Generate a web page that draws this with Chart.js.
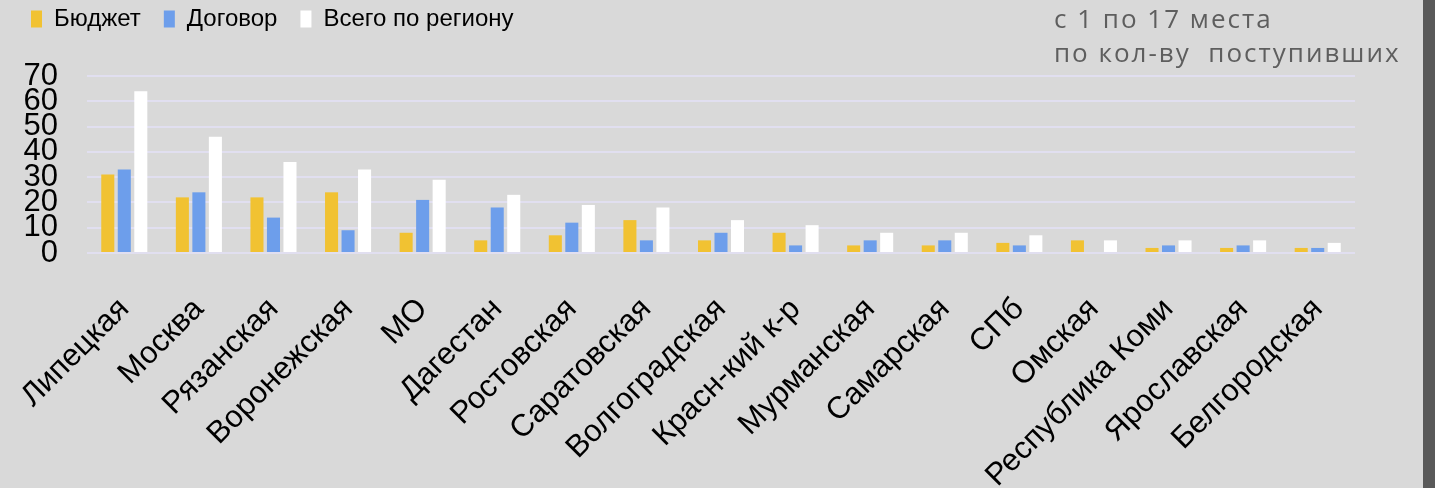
<!DOCTYPE html>
<html>
<head>
<meta charset="utf-8">
<script src="https://cdn.jsdelivr.net/npm/chart.js@4"></script>
<style>
  html, body { margin: 0; padding: 0; background: #d9d9d9; }
  #wrap { position: relative; width: 1435px; height: 488px; overflow: hidden; }
  #note {
    position: absolute; left: 1054px; top: 1px;
    font-family: 'Open Sans', sans-serif; font-size: 26px; line-height: 34px;
    letter-spacing: 2px; color: #5e5e5e; white-space: pre;
  }
  #strip { position: absolute; left: 1423px; top: 0; width: 12px; height: 488px; background: #595959; }
</style>
</head>
<body>
<div id="wrap">
  <canvas id="myChart" width="1435" height="488"></canvas>
  <div id="note">с 1 по 17 места
по кол-ву  поступивших</div>
  <div id="strip"></div>
</div>
<script>
const regions = ['Липецкая', 'Москва', 'Рязанская', 'Воронежская', 'МО', 'Дагестан', 'Ростовская',
  'Саратовская', 'Волгоградская', 'Красн-кий к-р', 'Мурманская', 'Самарская', 'СПб', 'Омская',
  'Республика Коми', 'Ярославская', 'Белгородская'];
const budget   = [31, 22, 22, 24, 8, 5, 7, 13, 5, 8, 3, 3, 4, 5, 2, 2, 2];
const contract = [33, 24, 14, 9, 21, 18, 12, 5, 8, 3, 5, 5, 3, 0, 3, 3, 2];
const total    = [64, 46, 36, 33, 29, 23, 19, 18, 13, 11, 8, 8, 7, 5, 5, 5, 4];
const yTicks   = [0, 10, 20, 30, 40, 50, 60, 70];

// extra room under the legend row
const legendGap = {
    id: 'legendGap',
    beforeInit(chart) {
        const legend = chart.legend;
        const origFit = legend.fit;
        legend.fit = function () { origFit.call(this); this.height += 35; };
    }
};

let ctx = document.getElementById('myChart').getContext('2d');

let regionChart = new Chart(ctx, {
    type: 'bar',
    data: {
        labels: regions,
        datasets: [
            { label: 'Бюджет', data: budget, backgroundColor: '#f1c232' },
            { label: 'Договор', data: contract, backgroundColor: '#6d9eeb' },
            { label: 'Всего по региону', data: total, backgroundColor: '#ffffff' },
        ]
    },
    plugins: [legendGap],
    options: {
        responsive: false,
        animation: false,
        categoryPercentage: 0.664,
        barPercentage: 0.79,
        layout: { padding: { left: 8, right: 80, top: -16, bottom: 0 } },
        plugins: {
            tooltip: { enabled: false },
            legend: {
                position: 'top',
                align: 'start',
                labels: {
                    boxWidth: 11,
                    boxHeight: 17,
                    padding: 23,
                    color: '#000',
                    font: { family: "'Liberation Sans Narrow', 'Liberation Sans', Arial", size: 24 }
                }
            }
        },
        scales: {
            x: {
                grid: { display: false },
                border: { display: false },
                ticks: {
                    color: '#000',
                    minRotation: 45,
                    maxRotation: 45,
                    autoSkip: false,
                    padding: 30,
                    font: { family: "'Liberation Sans', Arial", size: 31 }
                },
                afterFit: (s) => { s.height = 235; s.paddingLeft = 0; s.paddingRight = 0; }
            },
            y: {
                min: 0,
                max: 70,
                grid: { color: '#e1dff0', lineWidth: 2, drawTicks: false },
                border: { display: false },
                afterBuildTicks: (s) => { s.ticks = yTicks.map(v => ({ value: v })); },
                ticks: {
                    color: '#000',
                    autoSkip: false,
                    padding: 29,
                    font: { family: "'Liberation Sans', Arial", size: 31, lineHeight: 1 }
                },
                afterFit: (s) => { s.width = 79; }
            }
        }
    }
});
</script>
</body>
</html>
